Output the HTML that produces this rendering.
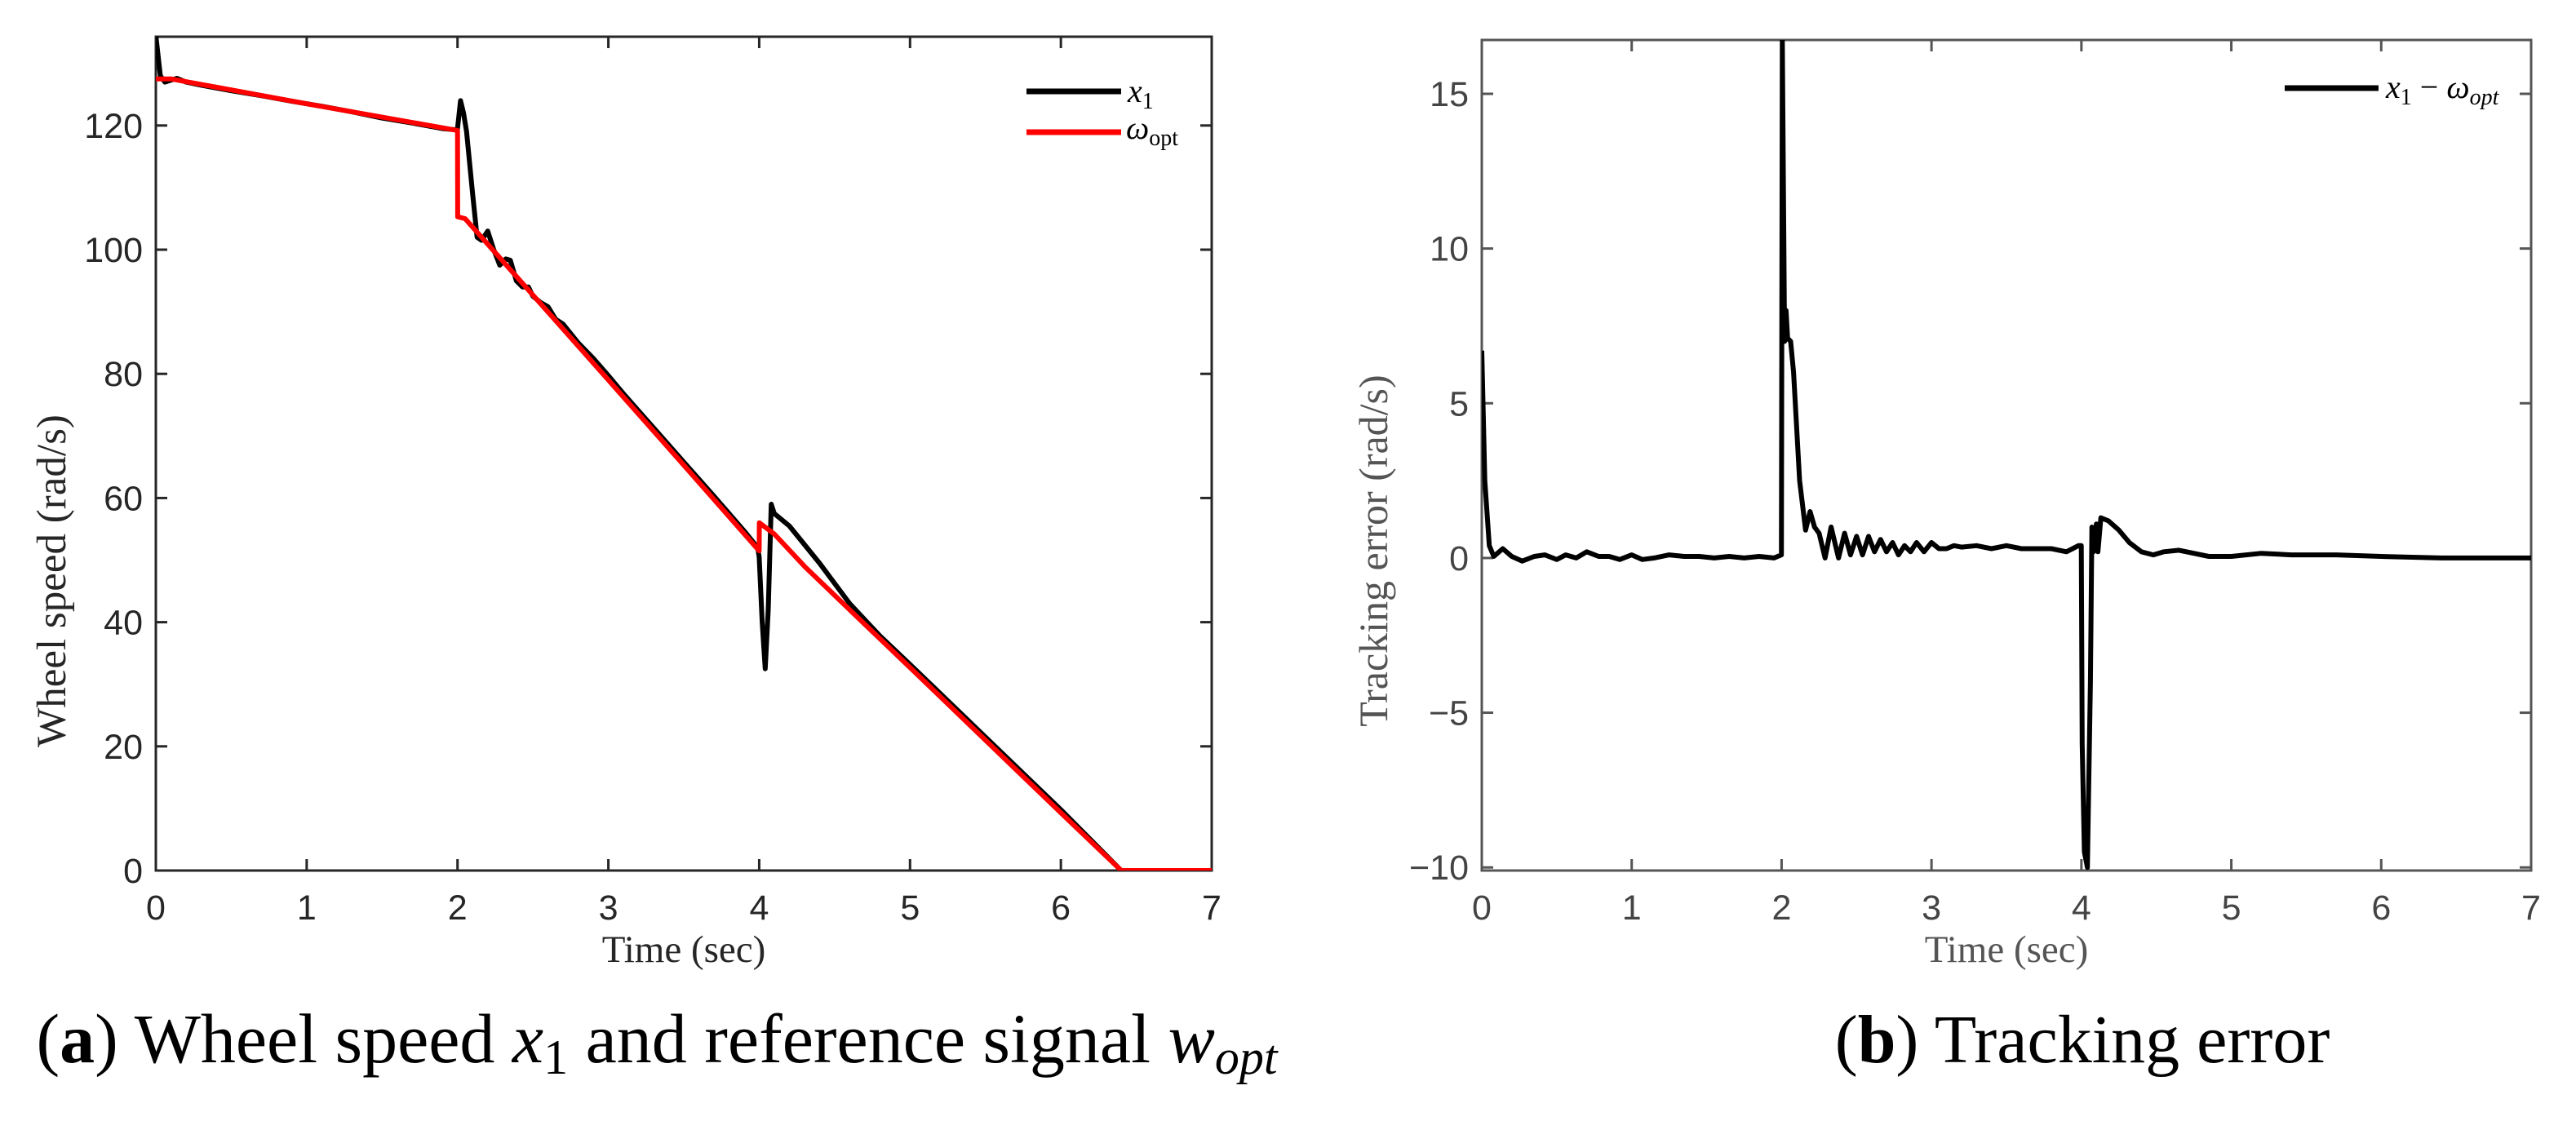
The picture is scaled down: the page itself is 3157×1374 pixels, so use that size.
<!DOCTYPE html>
<html><head><meta charset="utf-8">
<style>
html,body{margin:0;padding:0;background:#fff;}
svg{display:block;}
</style></head>
<body>
<svg id="fig" width="3157" height="1374" viewBox="0 0 3157 1374" xmlns="http://www.w3.org/2000/svg"></svg>
<script>
// ---- Panel (a) data ----
const xTicksA = [0,1,2,3,4,5,6,7];
const yTicksA = [0,20,40,60,80,100,120];
const x1Time = [0,0.03,0.06,0.1,0.14,0.2,0.3,0.5,0.7,0.9,1.1,1.3,1.5,1.7,1.9,1.99,2.0,2.02,2.04,2.06,2.1,2.13,2.16,2.2,2.24,2.28,2.32,2.35,2.39,2.43,2.47,2.5,2.55,2.6,2.65,2.7,2.8,2.9,3.0,3.1,3.3,3.5,3.7,3.9,3.99,4.0,4.02,4.04,4.06,4.08,4.1,4.2,4.4,4.6,4.8,5.0,5.5,6.0,6.4,7.0];
const x1Vals = [134.5,128,127,127.3,127.6,127,126.5,125.6,124.8,123.9,123.1,122.2,121.2,120.4,119.5,119.3,119.5,124,122,119,109,102,101.5,103,100,97.5,98.5,98.3,95,94,94,92.5,91.5,90.8,88.8,88,85,82.5,79.7,76.8,71.3,65.8,60.3,54.7,52,50.5,40,32.5,42,59,57.5,55.5,49.5,43,37.8,33.2,21.5,9.8,0,0];
const wTime = [0,0.1,1.0,2.0,2.001,2.05,2.5,3.0,3.5,4.0,4.001,4.1,4.3,4.6,5.0,5.5,6.0,6.4,7.0];
const wVals = [127.5,127.5,123.5,119.2,105.3,105,92.7,79.0,65.3,51.5,56,54.2,49.0,42.0,32.7,21.0,9.3,0,0];
// ---- Panel (b) data ----
const xTicksB = [0,1,2,3,4,5,6,7];
const yTicksB = [-10,-5,0,5,10,15];
const errTime = [0,0.02,0.05,0.08,0.14,0.2,0.27,0.35,0.42,0.5,0.56,0.63,0.7,0.78,0.85,0.92,1.0,1.07,1.15,1.25,1.35,1.45,1.55,1.65,1.75,1.85,1.95,1.999,2.005,2.02,2.03,2.04,2.06,2.08,2.12,2.16,2.19,2.22,2.25,2.29,2.33,2.38,2.42,2.46,2.5,2.54,2.58,2.62,2.66,2.7,2.74,2.78,2.82,2.86,2.9,2.95,3.0,3.05,3.1,3.15,3.2,3.3,3.4,3.5,3.6,3.7,3.8,3.9,3.98,3.999,4.005,4.02,4.04,4.06,4.07,4.08,4.1,4.11,4.13,4.18,4.25,4.32,4.4,4.48,4.55,4.65,4.75,4.85,5.0,5.2,5.4,5.7,6.0,6.4,7.0];
const errVals = [6.7,2.5,0.4,0.05,0.3,0.05,-0.1,0.05,0.1,-0.05,0.1,0.0,0.2,0.05,0.05,-0.05,0.1,-0.05,0.0,0.1,0.05,0.05,0.0,0.05,0.0,0.05,0.0,0.1,16.8,7.0,8.0,7.1,7.0,6.0,2.5,0.9,1.5,1.0,0.8,0.0,1.0,0.0,0.8,0.1,0.7,0.1,0.7,0.2,0.6,0.2,0.5,0.1,0.4,0.2,0.5,0.2,0.5,0.3,0.3,0.4,0.35,0.4,0.3,0.4,0.3,0.3,0.3,0.2,0.4,0.4,-6,-9.5,-10,-4,1.0,0.2,1.1,0.2,1.3,1.2,0.9,0.5,0.2,0.1,0.2,0.25,0.15,0.05,0.05,0.15,0.1,0.1,0.05,0.0,0.0];

const NS='http://www.w3.org/2000/svg';
const svg=document.getElementById('fig');
function mk(tag,attrs,parent){const e=document.createElementNS(NS,tag);for(const k in attrs)e.setAttribute(k,attrs[k]);(parent||svg).appendChild(e);return e;}
function txt(s,attrs,parent){const e=mk('text',attrs,parent);e.textContent=s;return e;}

function panel(cfg){
  const g=mk('g',{});
  
  
  const X=v=>cfg.x0+(v-cfg.xmin)/(cfg.xmax-cfg.xmin)*(cfg.x1-cfg.x0);
  const Y=v=>cfg.yb-(v-cfg.ymin)/(cfg.ymax-cfg.ymin)*(cfg.yb-cfg.yt);
  const ac=cfg.axisColor;
  const frame=mk('rect',{x:cfg.x0,y:cfg.yt,width:cfg.x1-cfg.x0,height:cfg.yb-cfg.yt,fill:'none',stroke:ac,'stroke-width':3},g);
  
  
  cfg.xt.forEach(t=>{
    const x=X(t);
    mk('line',{x1:x,x2:x,y1:cfg.yb,y2:cfg.yb-14,stroke:ac,'stroke-width':3},g);
    mk('line',{x1:x,x2:x,y1:cfg.yt,y2:cfg.yt+14,stroke:ac,'stroke-width':3},g);
    const l=txt(String(t),{x:x,y:cfg.yb+60,'text-anchor':'middle','font-family':'Liberation Sans, sans-serif','font-size':43,fill:cfg.tickColor},g);
    
    
  });
  cfg.yt_.forEach(t=>{
    const y=Y(t);
    mk('line',{x1:cfg.x0,x2:cfg.x0+14,y1:y,y2:y,stroke:ac,'stroke-width':3},g);
    mk('line',{x1:cfg.x1,x2:cfg.x1-14,y1:y,y2:y,stroke:ac,'stroke-width':3},g);
    const l=txt(String(t).replace('-','\u2212'),{x:cfg.x0-16,y:y+15,'text-anchor':'end','font-family':'Liberation Sans, sans-serif','font-size':43,fill:cfg.tickColor},g);
    
    
  });
  const clip=mk('clipPath',{id:cfg.name+'-clip'},g);
  mk('rect',{x:cfg.x0,y:cfg.yt,width:cfg.x1-cfg.x0,height:cfg.yb-cfg.yt},clip);
  cfg.series.forEach(s=>{
    const d=s.t.map((t,i)=>(i?'L':'M')+X(t).toFixed(1)+','+Y(s.v[i]).toFixed(1)).join('');
    const p=mk('path',{d:d,fill:'none',stroke:s.color,'stroke-width':6,'stroke-linejoin':'round','clip-path':'url(#'+cfg.name+'-clip)'},g);
    
    
  });
  const xl=txt('Time (sec)',{x:(cfg.x0+cfg.x1)/2,y:cfg.yb+112,'text-anchor':'middle','font-family':'Liberation Serif, serif','font-size':47,fill:cfg.labelColor},g);
  
  
  const cy=cfg.ylcy;
  const yl=txt(cfg.ylabel,{x:cfg.ylx,y:cy,'text-anchor':'middle','font-family':'Liberation Serif, serif','font-size':cfg.ylfs,fill:cfg.labelColor,transform:'rotate(-90 '+cfg.ylx+' '+cy+')'},g);
  
  
  return g;
}

panel({name:'wheel-speed-chart',x0:191,x1:1485,yt:45,yb:1067,xmin:0,xmax:7,ymin:0,ymax:134.3,
  xt:xTicksA,yt_:yTicksA,axisColor:'#262626',tickColor:'#262626',labelColor:'#262626',
  ylabel:'Wheel speed (rad/s)',ylx:80,ylcy:712,ylfs:51,
  series:[{name:'x1-line',t:x1Time,v:x1Vals,color:'#000'},{name:'wopt-line',t:wTime,v:wVals,color:'#ff0000'}]});

panel({name:'tracking-error-chart',x0:1816,x1:3102,yt:49,yb:1067,xmin:0,xmax:7,ymin:-10.1,ymax:16.74,
  xt:xTicksB,yt_:yTicksB,axisColor:'#555',tickColor:'#444',labelColor:'#555',
  ylabel:'Tracking error  (rad/s)',ylx:1700,ylcy:675,ylfs:50,
  series:[{name:'error-line',t:errTime,v:errVals,color:'#000'}]});

// legends
const lgA=mk('g',{});


mk('line',{x1:1258,x2:1374,y1:112,y2:112,stroke:'#000','stroke-width':7},lgA);
mk('line',{x1:1258,x2:1374,y1:162,y2:162,stroke:'#ff0000','stroke-width':7},lgA);
const la1=txt('',{x:1382,y:125,'font-family':'Liberation Serif, serif','font-size':40,'font-style':'italic',fill:'#000'},lgA);
la1.innerHTML='x<tspan font-style="normal" font-size="28" dy="8">1</tspan>';


const la2=txt('',{x:1380,y:170,'font-family':'Liberation Serif, serif','font-size':40,'font-style':'italic',fill:'#000'},lgA);
la2.innerHTML='ω<tspan font-style="normal" font-size="28" dy="8">opt</tspan>';



const lgB=mk('g',{});


mk('line',{x1:2800,x2:2915,y1:108,y2:108,stroke:'#000','stroke-width':7},lgB);
const lb=txt('',{x:2924,y:120,'font-family':'Liberation Serif, serif','font-size':40,'font-style':'italic',fill:'#000'},lgB);
lb.innerHTML='x<tspan font-style="normal" font-size="28" dy="8">1</tspan><tspan font-style="normal" dy="-8"> − </tspan>ω<tspan font-size="28" dy="8">opt</tspan>';



// captions
const ca=txt('',{x:805,y:1302,'text-anchor':'middle','font-family':'Liberation Serif, serif','font-size':86,fill:'#000'});
ca.innerHTML='(<tspan font-weight="bold">a</tspan>) Wheel speed <tspan font-style="italic">x</tspan><tspan font-size="60" dy="14">1</tspan><tspan dy="-14"> and reference signal </tspan><tspan font-style="italic">w</tspan><tspan font-style="italic" font-size="60" dy="14">opt</tspan>';


const cb=txt('',{x:2552,y:1302,'text-anchor':'middle','font-family':'Liberation Serif, serif','font-size':84,fill:'#000'});
cb.innerHTML='(<tspan font-weight="bold">b</tspan>) Tracking error';


</script>
</body></html>
